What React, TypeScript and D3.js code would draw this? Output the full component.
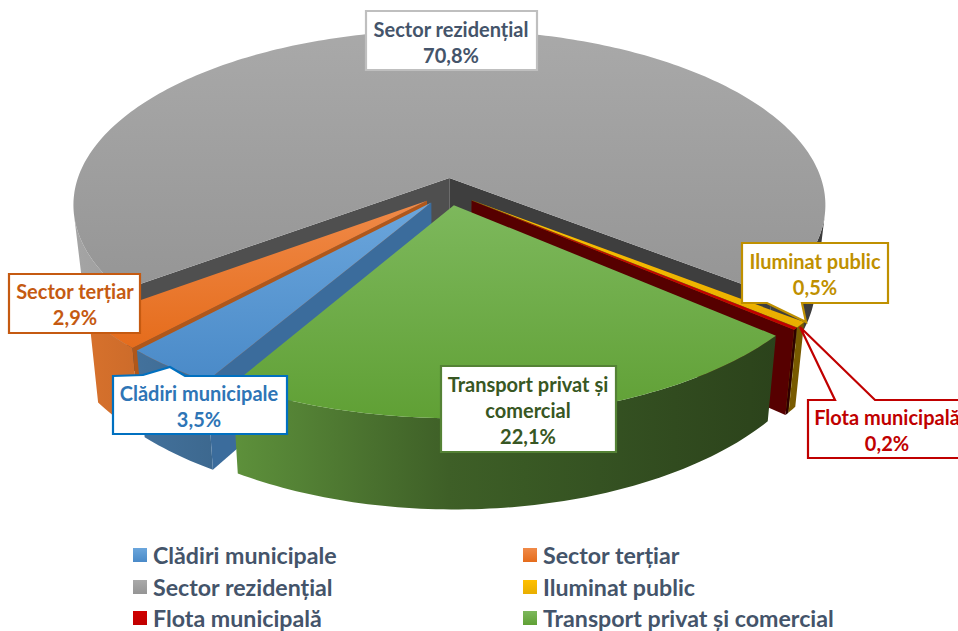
import React from "react";
import * as d3 from "d3";

const categories = ["Clădiri municipale", "Sector terțiar", "Sector rezidențial", "Iluminat public", "Flota municipală", "Transport privat și comercial"];
const values = [3.5, 2.9, 70.8, 0.5, 0.2, 22.1];
const valueLabels = ["3,5%", "2,9%", "70,8%", "0,5%", "0,2%", "22,1%"];
const baseColors = ["#5b9bd5", "#ed7d31", "#a5a5a5", "#ffc000", "#c00000", "#70ad47"];
const topLight = ["#6ba6dc", "#f08a48", "#a9a9a9", "#ffc000", "#d00000", "#7db85c"];
const topDark = ["#4a8ac8", "#e56c1c", "#959595", "#e8ae00", "#c00000", "#60a035"];
const wallGain = [0.78, 0.92, 1.0, 1.25, 0.62, 1.0];
const cutColors = ["#3b6c9c", "#b0571a", "#4f4f4f", "#8a7000", "#560000", "#3a5d20"];
const cutColorsEnd = ["#3b6c9c", "#b0571a", "#3e3e3e", "#806800", "#560000", "#3a5d20"];
const labelStroke = ["#0070c0", "#c55a11", "#bfbfbf", "#bf9000", "#c00000", "#548235"];
const labelText = ["#2e75b6", "#c55a11", "#44546a", "#bf9000", "#c00000", "#385723"];
const labelLines = [["Clădiri municipale"], ["Sector terțiar"], ["Sector rezidențial"], ["Iluminat public"], ["Flota municipală"], ["Transport privat și", "comercial"]];

// layout: [x0, y0, x1, y1, text centre x, first line centre y]
const labelBoxes = [
  [113, 376, 287, 434, 199, 393],
  [9, 274, 140, 333, 75, 291],
  [366, 11, 537, 70, 451, 29],
  [742, 243, 888, 303, 815, 261],
  [808, 400, 975, 458, 887, 417],
  [441, 366, 616, 452, 528, 384],
];
const labelPointers: Record<number, { side: "top" | "bottom"; pts: number[][] }> = {
  0: { side: "top", pts: [[143, 375], [170, 367], [185, 376]] },
  3: { side: "bottom", pts: [[802, 303], [806, 322], [767, 303]] },
  4: { side: "top", pts: [[835, 400], [800, 327], [875, 400]] },
};
const legendRows = [555, 587, 618];
const legendCols = [133, 523];

const CX = 449, CY = 178, A = 371.5, B = 171, P = 0.154, E = 0.078, DEPTH = 75, CONV = 0.025;
const START_DEG = 210.3;
const toRad = (d: number) => (d * Math.PI) / 180;

function project(u: number, v: number, z: number): [number, number] {
  const w = 1 - P * v;
  const x = CX + ((A * u) / w) * (1 - CONV * z);
  const y = CY + (B * v) / w + (DEPTH * z) / w;
  return [x, y];
}

const lightScale = d3.scaleLinear().domain([0, 0.2, 0.5, 1]).range([1, 0.85, 0.55, 0.36]);
const tStops = d3.range(0, 1.01, 0.1);
const line = d3.line<[number, number]>().x((d) => d[0]).y((d) => d[1]);

const arcs = d3.pie<number>().sort(null).startAngle(toRad(START_DEG)).endAngle(toRad(START_DEG + 360))(values);

const signedArea = (pts: [number, number][]) => d3.polygonArea(pts);

function buildSlice(i: number) {
  const a0 = arcs[i].startAngle, a1 = arcs[i].endAngle, mid = (a0 + a1) / 2;
  const cu = E * Math.sin(mid), cv = E - E * Math.cos(mid);
  const rim = (t: number, z: number) => project(cu + Math.sin(t), cv - Math.cos(t), z);
  const apex = (z: number) => project(cu, cv, z);
  const n = Math.max(4, Math.ceil(((a1 - a0) * 180) / Math.PI));
  const angles = d3.range(n + 1).map((k) => a0 + ((a1 - a0) * k) / n);
  const top: [number, number][] = [apex(0), ...angles.map((t) => rim(t, 0))];
  const startWall: [number, number][] = [apex(0), rim(a0, 0), rim(a0, 1), apex(1)];
  const endWall: [number, number][] = [apex(0), apex(1), rim(a1, 1), rim(a1, 0)];
  // runs of camera-facing outer wall
  const runs: [number, number][][] = [];
  let cur: number[] = [];
  for (let k = 0; k < n; k++) {
    const q: [number, number][] = [rim(angles[k], 0), rim(angles[k + 1], 0), rim(angles[k + 1], 1), rim(angles[k], 1)];
    if (signedArea(q) > 0) {
      if (!cur.length) cur.push(angles[k]);
      cur.push(angles[k + 1]);
    } else if (cur.length) {
      runs.push([...cur.map((t) => rim(t, 0)), ...cur.slice().reverse().map((t) => rim(t, 1))]);
      cur = [];
    }
  }
  if (cur.length) runs.push([...cur.map((t) => rim(t, 0)), ...cur.slice().reverse().map((t) => rim(t, 1))]);
  return { top, startWall, endWall, runs };
}

const slices = values.map((_, i) => buildSlice(i));

function boxPath(i: number) {
  const [x0, y0, x1, y1] = labelBoxes[i];
  const ptr = labelPointers[i];
  const pts: [number, number][] = [[x0, y0]];
  if (ptr && ptr.side === "top") ptr.pts.forEach((p) => pts.push([p[0], p[1]]));
  pts.push([x1, y0], [x1, y1]);
  if (ptr && ptr.side === "bottom") ptr.pts.forEach((p) => pts.push([p[0], p[1]]));
  pts.push([x0, y1]);
  return line(pts) + "Z";
}

export default function App() {
  const FONT = "Lato, 'Open Sans', sans-serif";
  return (
    <svg width={958} height={631} viewBox="0 0 958 631" style={{ position: "absolute", left: 0, top: 0, background: "#fff" }}>
      <defs>
        {values.map((_, i) => (
          <linearGradient key={i} id={`top${i}`} x1="0" y1="0" x2="0" y2="1">
            <stop offset="0" stopColor={topLight[i]} />
            <stop offset="1" stopColor={topDark[i]} />
          </linearGradient>
        ))}
        {values.map((_, i) => (
          <linearGradient key={i} id={`wall${i}`} gradientUnits="userSpaceOnUse" x1={73} y1={0} x2={825} y2={0}>
            {tStops.map((t) => (
              <stop key={t} offset={t} stopColor={d3.rgb(baseColors[i]).darker(-Math.log(Math.min(1, lightScale(t) * wallGain[i])) / Math.log(1 / 0.7)).formatHex()} />
            ))}
          </linearGradient>
        ))}
        {values.map((_, i) => (
          <linearGradient key={i} id={`leg${i}`} x1="0" y1="0" x2="0" y2="1">
            <stop offset="0" stopColor={topLight[i]} />
            <stop offset="1" stopColor={topDark[i]} />
          </linearGradient>
        ))}
      </defs>

      {[2, 1, 0, 3, 4, 5].map((i) => {
        const s = slices[i];
        return (
          <g key={i}>
            {s.runs.map((r, k) => (
              <path key={k} d={line(r) + "Z"} fill={`url(#wall${i})`} />
            ))}
            {signedArea(s.startWall) > 0 && <path d={line(s.startWall) + "Z"} fill={cutColors[i]} />}
            {signedArea(s.endWall) > 0 && <path d={line(s.endWall) + "Z"} fill={cutColorsEnd[i]} />}
            <path d={line(s.top) + "Z"} fill={`url(#top${i})`} />
          </g>
        );
      })}

      {values.map((_, i) => (
        <g key={i} fontFamily={FONT} fontWeight={700} fontSize={20} textAnchor="middle" fill={labelText[i]}>
          <path d={boxPath(i)} fill="#fff" stroke={labelStroke[i]} strokeWidth={2.2} strokeLinejoin="miter" />
          {[...labelLines[i], valueLabels[i]].map((t, k) => (
            <text key={k} x={labelBoxes[i][4]} y={labelBoxes[i][5] + k * 26} dominantBaseline="central">
              {t}
            </text>
          ))}
        </g>
      ))}

      {categories.map((c, i) => {
        const col = i % 2, row = Math.floor(i / 2);
        return (
          <g key={c}>
            <rect x={legendCols[col]} y={legendRows[row] - 7} width={14} height={14} fill={`url(#leg${i})`} />
            <text x={legendCols[col] + 20} y={legendRows[row]} dominantBaseline="central" fontFamily={FONT} fontWeight={700} fontSize={23.2} fill="#44546a">
              {c}
            </text>
          </g>
        );
      })}
    </svg>
  );
}
